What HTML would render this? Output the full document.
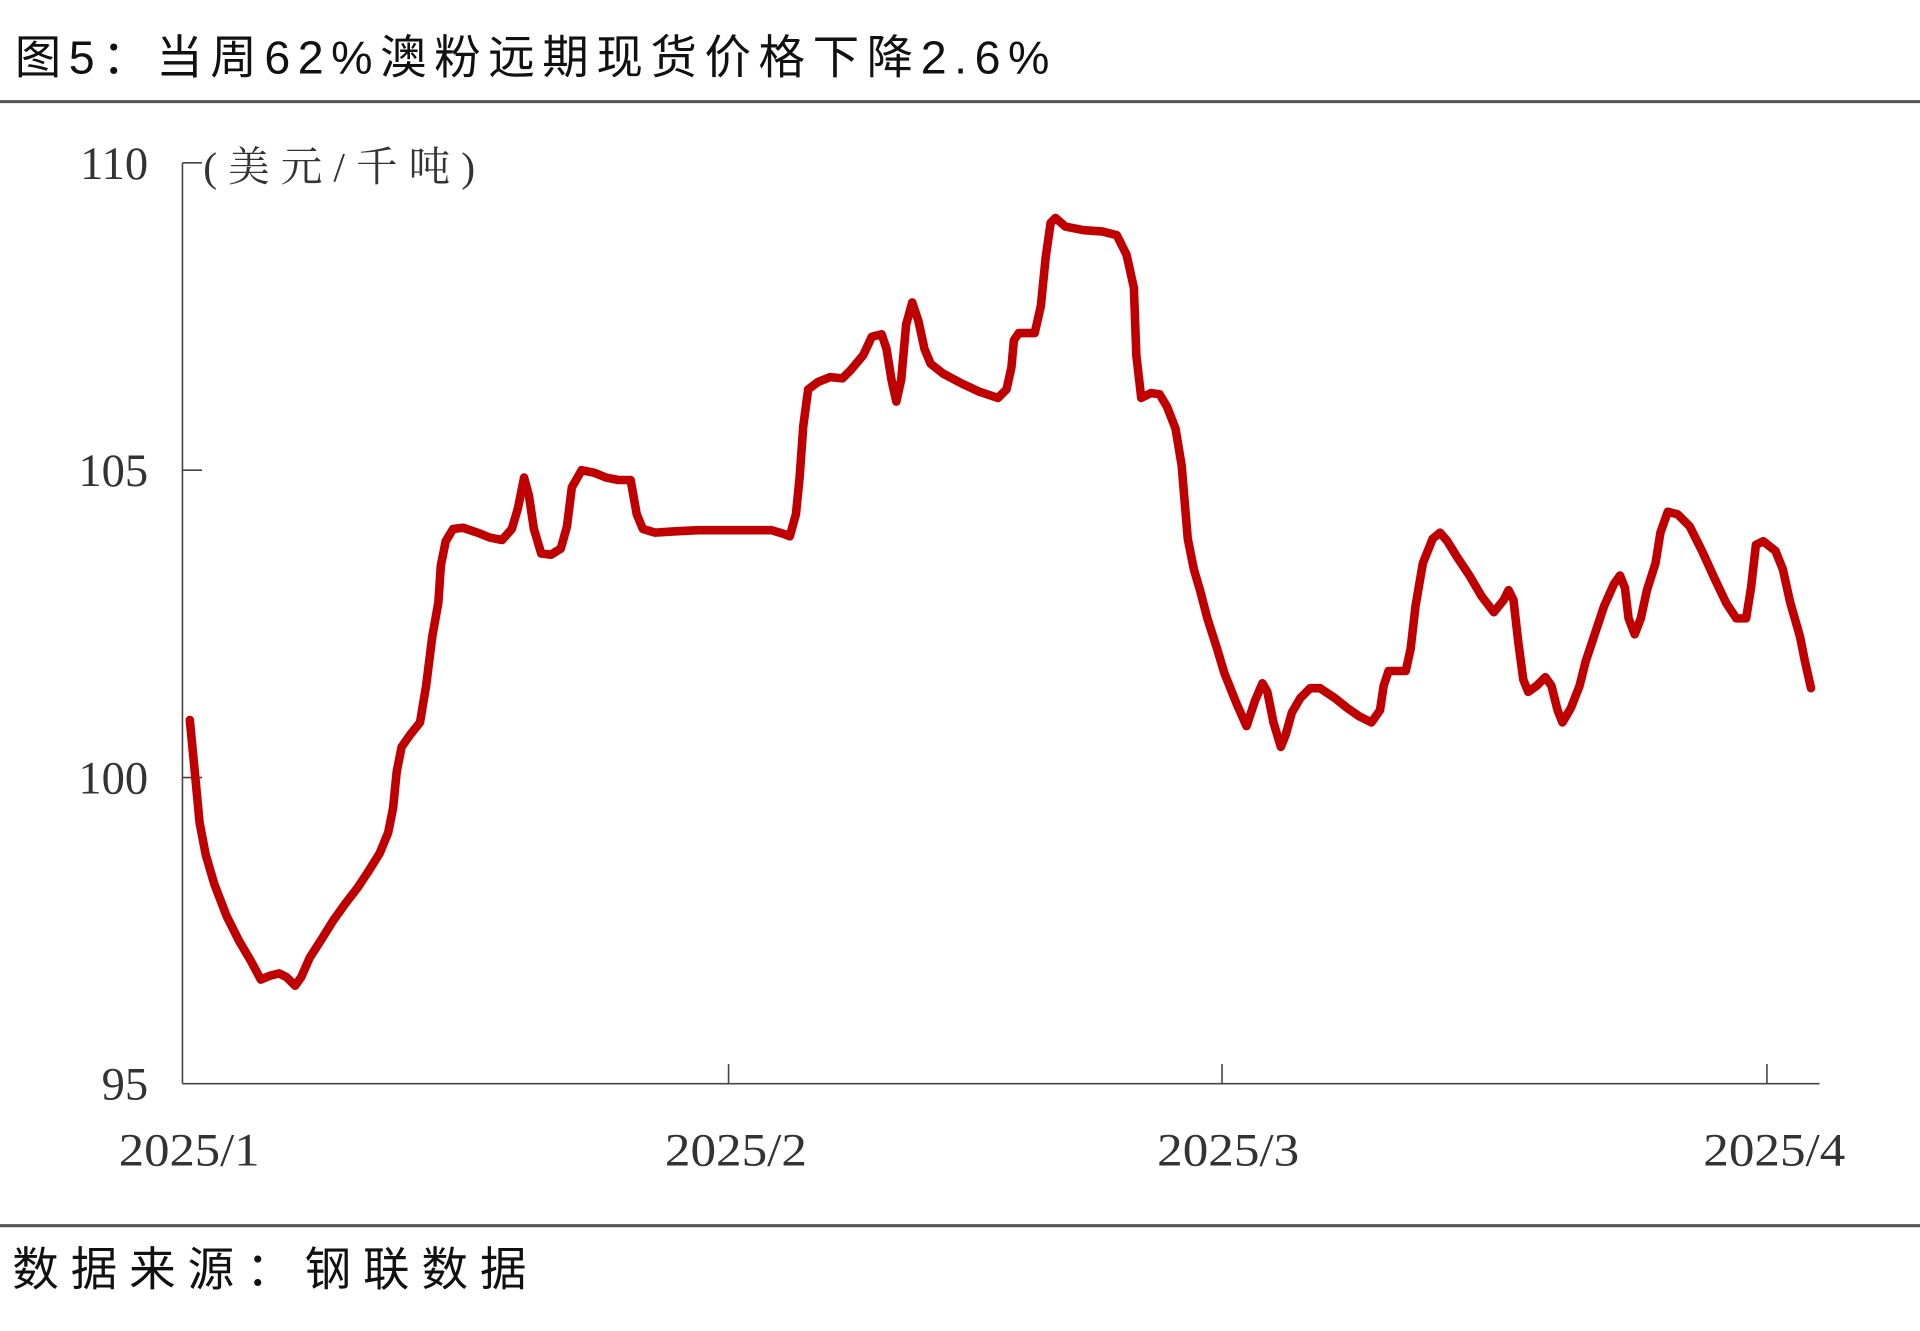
<!DOCTYPE html>
<html><head><meta charset="utf-8">
<style>
html,body{margin:0;padding:0;background:#fff;}
svg{display:block;}
</style></head>
<body>
<svg width="1920" height="1331" viewBox="0 0 1568 1087" preserveAspectRatio="none" xmlns="http://www.w3.org/2000/svg">
<rect width="1568" height="1087" fill="#fff"/>
<text x="12" y="60" font-family="'Liberation Sans','Noto Sans CJK SC',sans-serif" font-size="38" fill="#111" textLength="845" lengthAdjust="spacing">图5：当周62%澳粉远期现货价格下降2.6%</text>
<line x1="0" y1="83" x2="1568" y2="83" stroke="#555" stroke-width="2.5"/>
<line x1="0" y1="1001" x2="1568" y2="1001" stroke="#555" stroke-width="2.5"/>
<text x="10" y="1050" font-family="'Liberation Sans','Noto Sans CJK SC',sans-serif" font-size="38" fill="#111" textLength="420" lengthAdjust="spacing">数据来源：钢联数据</text>
<g stroke="#444" stroke-width="1.3" fill="none">
<line x1="149" y1="133" x2="149" y2="885"/>
<line x1="149" y1="885" x2="1486" y2="885"/>
<line x1="149" y1="133" x2="165" y2="133"/>
<line x1="149" y1="384" x2="165" y2="384"/>
<line x1="149" y1="635" x2="165" y2="635"/>
<line x1="595" y1="885" x2="595" y2="869"/>
<line x1="998" y1="885" x2="998" y2="869"/>
<line x1="1443" y1="885" x2="1443" y2="869"/>
</g>
<g font-family="'Liberation Serif',serif" font-size="38" fill="#333" text-anchor="end">
<text x="121" y="146">110</text>
<text x="121" y="397">105</text>
<text x="121" y="648">100</text>
<text x="121" y="898">95</text>
</g>
<g font-family="'Liberation Serif',serif" font-size="38" fill="#333">
<text x="97" y="952" textLength="115" lengthAdjust="spacingAndGlyphs">2025/1</text>
<text x="543" y="952" textLength="116" lengthAdjust="spacingAndGlyphs">2025/2</text>
<text x="945" y="952" textLength="116" lengthAdjust="spacingAndGlyphs">2025/3</text>
<text x="1391" y="952" textLength="116" lengthAdjust="spacingAndGlyphs">2025/4</text>
</g>
<text x="166" y="148" font-family="'Liberation Serif','Noto Serif CJK SC',serif" font-size="34" fill="#333" textLength="222" lengthAdjust="spacing">(美元/千吨)</text>
<polyline fill="none" stroke="#C00000" stroke-width="7" stroke-linejoin="round" stroke-linecap="round" points="155,588 160,640 163,672 168,698 175,722 185,748 195,768 205,785 213,800 220,797 228,795 234,798 241,805 246,798 253,782 262,768 272,752 282,738 292,725 300,713 310,697 317,680 321,660 324,630 328,610 335,600 343,590 348,560 353,520 358,492 360,462 364,442 370,432 378,431 390,435 400,439 410,441 418,432 423,415 428,390 432,405 436,432 442,452 450,453 458,448 463,430 467,398 475,384 485,386 495,390 505,392 515,392 520,420 525,432 535,435 550,434 570,433 620,433 630,433 640,436 645,438 650,420 653,390 656,348 660,318 668,312 678,308 688,309 695,302 705,290 712,275 720,273 724,285 728,310 732,328 736,310 740,265 745,247 750,262 755,285 760,297 770,305 785,313 800,320 815,325 822,318 826,300 828,278 832,272 845,272 850,250 854,210 858,182 862,178 870,185 885,188 900,189 912,192 920,208 926,235 928,290 932,325 940,321 947,322 953,332 960,350 965,380 970,440 975,465 980,482 986,505 994,530 1000,550 1010,575 1018,593 1025,572 1031,558 1035,565 1040,590 1046,610 1050,600 1055,582 1062,570 1070,562 1078,562 1090,570 1100,578 1110,585 1120,590 1127,580 1130,560 1134,548 1148,548 1152,530 1156,495 1162,460 1170,440 1176,435 1182,442 1190,455 1200,470 1210,487 1220,500 1228,490 1232,482 1236,490 1240,525 1244,555 1248,565 1255,560 1262,553 1267,560 1272,580 1276,590 1283,578 1290,560 1295,540 1300,525 1310,495 1318,477 1323,470 1327,480 1330,505 1335,518 1340,505 1345,482 1352,460 1356,435 1362,418 1370,420 1380,430 1390,450 1400,472 1410,493 1418,505 1426,505 1430,480 1434,445 1440,442 1450,450 1456,465 1462,492 1470,520 1474,540 1479,562"/>
</svg>
</body></html>
